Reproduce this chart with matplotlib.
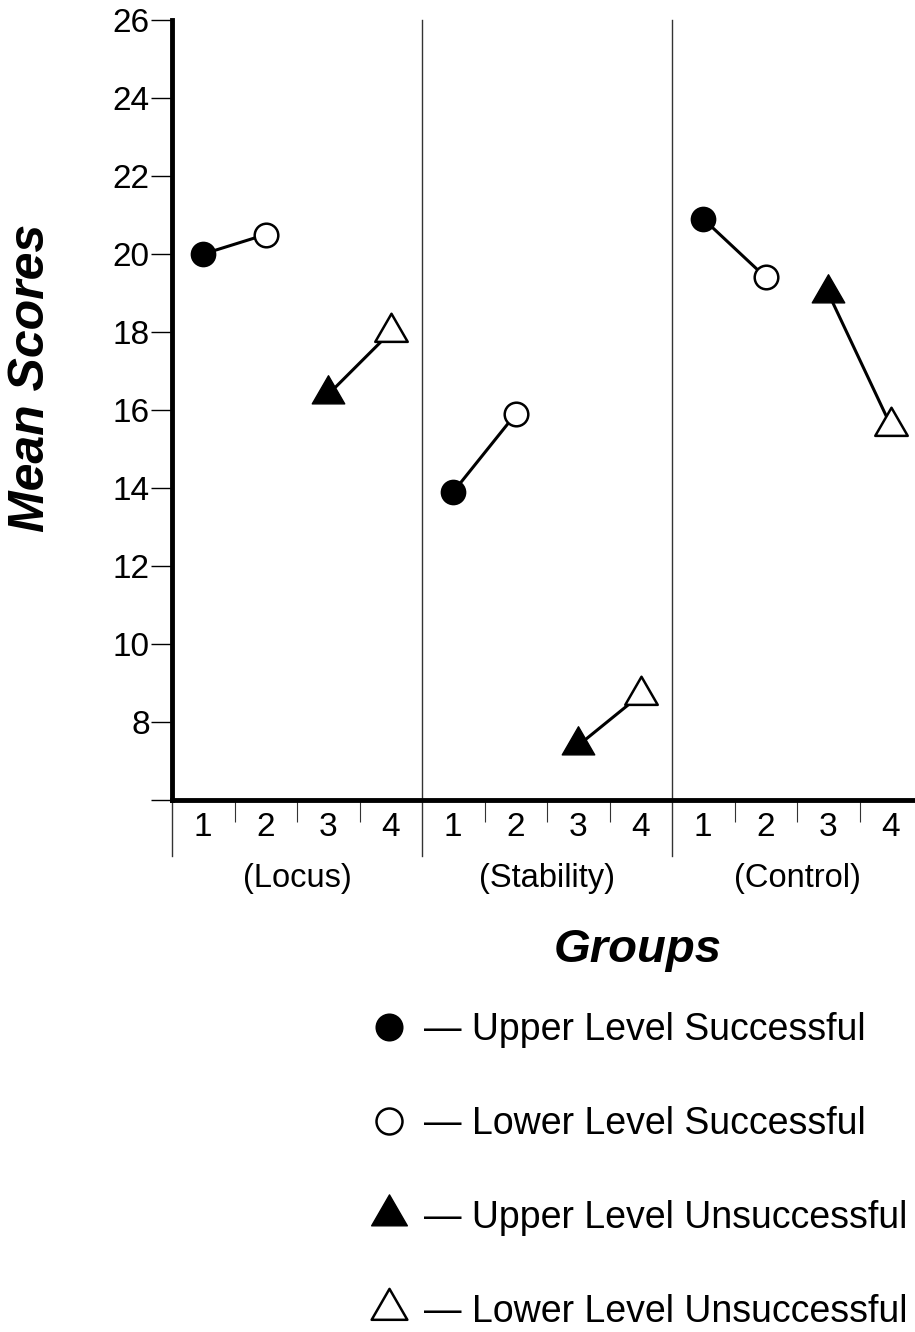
import matplotlib.pyplot as plt
from matplotlib.lines import Line2D
from matplotlib.path import Path

plt.rcParams['font.family'] = ['Liberation Sans', 'DejaVu Sans']

# Data
groups = ['(Locus)', '(Stability)', '(Control)']
slot_labels = ['1', '2', '3', '4']
upper_succ = [20.0, 13.9, 20.9]
lower_succ = [20.5, 15.9, 19.4]
upper_unsucc = [16.4, 7.4, 19.0]
lower_unsucc = [18.0, 8.7, 15.6]
yticks = [6, 8, 10, 12, 14, 16, 18, 20, 22, 24, 26]
ytick_labels = ['', '8', '10', '12', '14', '16', '18', '20', '22', '24', '26']
legend_labels = ['Upper Level Successful', 'Lower Level Successful',
                 'Upper Level Unsuccessful', 'Lower Level Unsuccessful']

W, H = 915, 1332
fig = plt.figure(figsize=(W / 100, H / 100), dpi=100)
ax = fig.add_axes([172 / W, 1 - 800 / H, 750 / W, 780 / H])

# equilateral triangle, closed path
tri = Path([(-1, -0.5774), (1, -0.5774), (0, 1.1547), (-1, -0.5774)], closed=True)
styles = [
    dict(marker='o', ms=17, mfc='black', mec='black', mew=1.5),
    dict(marker='o', ms=17, mfc='white', mec='black', mew=1.8),
    dict(marker=tri, ms=27, mfc='black', mec='black', mew=1.0),
    dict(marker=tri, ms=27, mfc='white', mec='black', mew=1.8),
]

for g in range(len(groups)):
    base = g * 4
    xs = [base + 0.5, base + 1.5, base + 2.5, base + 3.5]
    ax.plot(xs[:2], [upper_succ[g], lower_succ[g]], color='black', lw=2.2, zorder=2)
    ax.plot(xs[2:], [upper_unsucc[g], lower_unsucc[g]], color='black', lw=2.2, zorder=2)
    vals = [upper_succ[g], lower_succ[g], upper_unsucc[g], lower_unsucc[g]]
    for x, v, st in zip(xs, vals, styles):
        ax.plot([x], [v], linestyle='none', zorder=3, **st)

ax.set_xlim(0, 12)
ax.set_ylim(6, 26)

# group dividers (run through the plot and below the axis)
for b in [4, 8]:
    ax.axvline(b, ymin=-0.072, ymax=1, color='#333333', lw=1.0, clip_on=False, zorder=1)
ax.axvline(0, ymin=-0.072, ymax=0, color='#333333', lw=1.0, clip_on=False)

for s in ['top', 'right']:
    ax.spines[s].set_visible(False)
ax.spines['left'].set_linewidth(3.5)
ax.spines['bottom'].set_linewidth(3.5)

ax.set_yticks(yticks)
ax.set_yticklabels(ytick_labels)
ax.tick_params(axis='y', length=15, width=1.0, pad=1, labelsize=24)

centers = [i + 0.5 for i in range(12)]
ax.set_xticks(centers)
ax.set_xticklabels(slot_labels * 3)
ax.tick_params(axis='x', which='major', length=0, pad=9, labelsize=24)
ax.set_xticks([1, 2, 3, 5, 6, 7, 9, 10, 11], minor=True)
ax.tick_params(axis='x', which='minor', length=16, width=0.8, color='#333333')

for g, name in enumerate(groups):
    ax.text(g * 4 + 2, -0.10, name, transform=ax.get_xaxis_transform(),
            ha='center', va='center', fontsize=23.5)

fig.text(31 / W, 1 - 378 / H, 'Mean Scores', rotation=90, ha='center', va='center',
         fontsize=36, fontweight='bold', fontstyle='italic')
fig.text(638 / W, 1 - 950 / H, 'Groups', ha='center', va='center',
         fontsize=34, fontweight='bold', fontstyle='italic')

handles = []
for st in styles:
    st2 = dict(st)
    st2['ms'] = st['ms'] * 1.1
    handles.append(Line2D([], [], linestyle='none', **st2))
fig.legend(handles, ['\u2014 ' + l for l in legend_labels], loc='upper left',
           bbox_to_anchor=(370 / W, 1 - 1012 / H), frameon=False, fontsize=27,
           handlelength=1.0, handletextpad=0.45, labelspacing=1.55, borderpad=0,
           borderaxespad=0)

fig.savefig('out.png', dpi=100)
